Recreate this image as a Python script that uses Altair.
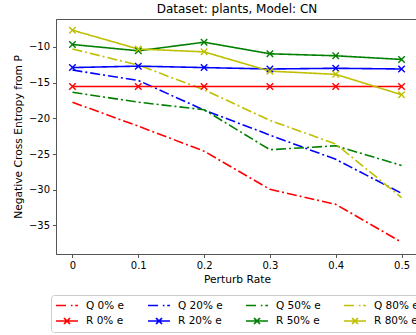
import altair as alt
import pandas as pd

# Perturbation rates on the x axis
rates = [0.0, 0.1, 0.2, 0.3, 0.4, 0.5]

# Negative cross entropy from P, one list per series
q_0 = [-17.75, -21.1, -24.6, -29.95, -32.05, -37.35]
r_0 = [-15.55, -15.55, -15.55, -15.55, -15.55, -15.55]
q_20 = [-13.25, -14.7, -18.85, -22.35, -25.75, -30.5]
r_20 = [-12.9, -12.7, -12.9, -13.1, -13.0, -13.1]
q_50 = [-16.35, -17.75, -18.8, -24.4, -23.85, -26.6]
r_50 = [-9.67, -10.55, -9.35, -10.97, -11.25, -11.76]
q_80 = [-10.3, -12.55, -16.0, -20.3, -23.6, -31.1]
r_80 = [-7.67, -10.3, -10.7, -13.4, -13.85, -16.7]

series_names = ["Q 0% e", "Q 20% e", "Q 50% e", "Q 80% e",
                "R 0% e", "R 20% e", "R 50% e", "R 80% e"]
series_values = [q_0, q_20, q_50, q_80, r_0, r_20, r_50, r_80]
series_colors = ["#ff0000", "#0000ff", "#008000", "#bfbf00",
                 "#ff0000", "#0000ff", "#008000", "#bfbf00"]

rows = []
for name, vals in zip(series_names, series_values):
    for x, y in zip(rates, vals):
        rows.append({"series": name, "kind": name[0], "rate": x, "value": y})
df = pd.DataFrame(rows)

DASHDOT = [10, 3, 2, 3]
X_MARK = "M-1,-1L1,1M-1,1L1,-1"
# legend glyphs: dash-dot line, and solid line with an x marker
LEG_Q = "M-1,0H1.2M1.7,0H2.0M2.5,0H3"
LEG_R = "M-1,0H3M0.45,-0.55L1.55,0.55M0.45,0.55L1.55,-0.55"

color_scale = alt.Scale(domain=series_names, range=series_colors)
dash_scale = alt.Scale(domain=series_names,
                       range=[DASHDOT] * 4 + [[1, 0]] * 4)
shape_scale = alt.Scale(domain=series_names, range=[LEG_Q] * 4 + [LEG_R] * 4)

x_enc = alt.X("rate:Q", title="Perturb Rate",
              scale=alt.Scale(domain=[-0.025, 0.525], nice=False, zero=False),
              axis=alt.Axis(values=rates, format="~g"))
y_enc = alt.Y("value:Q", title="Negative Cross Entropy from P",
              scale=alt.Scale(domain=[-39.0, -6.1], nice=False, zero=False),
              axis=alt.Axis(values=[-35, -30, -25, -20, -15, -10]))

base = alt.Chart(df)

lines = base.mark_line(strokeWidth=1.6).encode(
    x=x_enc, y=y_enc,
    color=alt.Color("series:N", scale=color_scale),
    strokeDash=alt.StrokeDash("series:N", scale=dash_scale, legend=None),
)

markers = base.transform_filter(alt.datum.kind == "R").mark_point(
    shape=X_MARK, filled=False, size=42, strokeWidth=1.4, opacity=1
).encode(
    x=x_enc, y=y_enc,
    color=alt.Color("series:N", scale=color_scale),
)

legend_def = alt.Legend(
    title=None, orient="none", direction="horizontal",
    legendX=-5, legendY=276, columns=4,
    columnPadding=19, rowPadding=3.5, symbolSize=121, symbolStrokeWidth=1.6,
    labelOffset=18, labelFont="DejaVu Sans", labelFontSize=10.5,
    labelColor="black", padding=4, strokeColor="#cccccc", fillColor="white",
    cornerRadius=3, symbolFillColor="transparent", symbolOpacity=1,
)

# carries the legend only: no rows reach the marks
legend_layer = base.transform_filter("false").mark_point(
    filled=False, opacity=1
).encode(
    x=x_enc, y=y_enc,
    color=alt.Color("series:N", scale=color_scale, legend=legend_def),
    shape=alt.Shape("series:N", scale=shape_scale, legend=legend_def),
)

chart = alt.layer(lines, markers, legend_layer).properties(
    width=362, height=235,
    title=alt.TitleParams("Dataset: plants, Model: CN", frame="group"),
    autosize=alt.AutoSizeParams(type="none"),
    padding={"left": 56, "right": -2, "top": 19, "bottom": 81},
).configure_view(
    stroke="#555555", strokeWidth=1
).configure_axis(
    grid=False, domainColor="#555555", tickColor="#555555", tickSize=3.5,
    labelFont="DejaVu Sans", labelFontSize=10, labelColor="black",
    labelPadding=3, titleFont="DejaVu Sans", titleFontSize=10.7,
    titleFontWeight="normal", titleColor="black",
).configure_axisY(titlePadding=5).configure_axisX(titlePadding=4).configure_title(
    font="DejaVu Sans", fontSize=12, fontWeight="normal", color="black",
    anchor="middle", offset=3,
)

chart.save("out.html", embed_options={"renderer": "svg", "actions": False})
